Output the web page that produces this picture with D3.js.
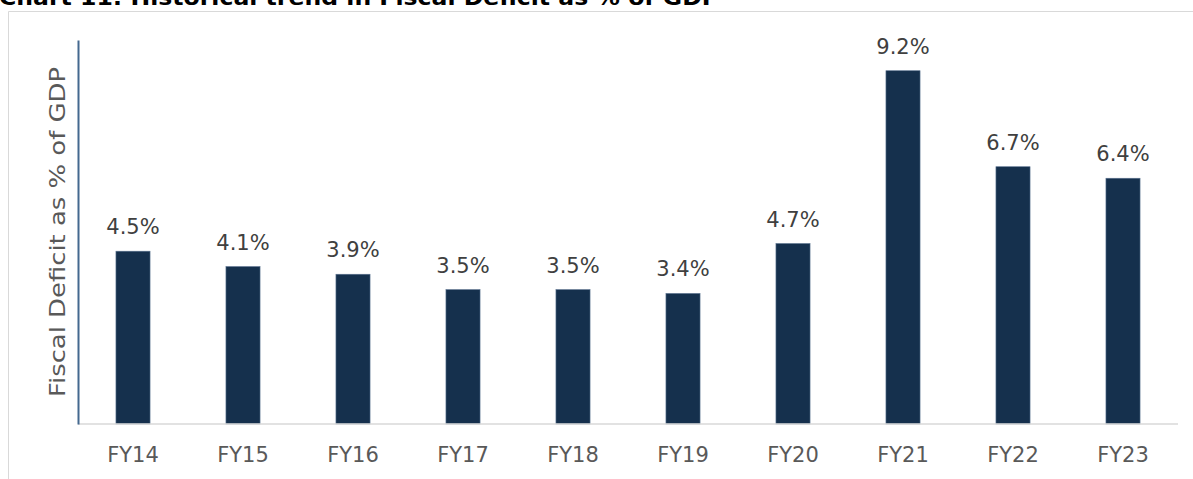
<!doctype html>
<html lang="en">
<head>
  <meta charset="utf-8">
  <title>Fiscal Deficit as % of GDP</title>
  <style>
    body { margin: 0; background: #fff; }
    #chart { width: 1193px; height: 479px; position: relative; overflow: hidden; }
    text { font-family: "DejaVu Sans", Verdana, sans-serif; }
  </style>
</head>
<body>
  <div id="chart"></div>

  <script src="https://d3js.org/d3.v7.min.js"></script>
  <script>
    const years = ['FY14', 'FY15', 'FY16', 'FY17', 'FY18', 'FY19', 'FY20', 'FY21', 'FY22', 'FY23'];
    const deficit = [4.5, 4.1, 3.9, 3.5, 3.5, 3.4, 4.7, 9.2, 6.7, 6.4];
    const yDomain = [0, 10];

    const width = 1193;
    const height = 479;
    const margin = { top: 40, right: 15, bottom: 55, left: 78 };

    const svg = d3.select('#chart')
      .append('svg')
      .attr('width', width)
      .attr('height', height);

    // title, clipped at top like the source
    svg.append('text')
      .attr('x', -1)
      .attr('y', 5)
      .attr('font-size', 22)
      .attr('font-weight', 'bold')
      .attr('fill', '#000')
      .attr('textLength', 720)
      .attr('lengthAdjust', 'spacingAndGlyphs')
      .text('Chart 11: Historical trend in Fiscal Deficit as % of GDP');

    // frame
    svg.append('path')
      .attr('d', `M8.5,${height} V11.5 H${width}`)
      .attr('fill', 'none')
      .attr('stroke', '#d9d9d9')
      .attr('stroke-width', 1);

    const x = d3.scaleBand()
      .domain(years)
      .range([margin.left, width - margin.right])
      .paddingInner(0.69)
      .paddingOuter(0.345);

    const y = d3.scaleLinear()
      .domain(yDomain)
      .range([height - margin.bottom, margin.top]);

    const data = years.map((d, i) => ({ year: d, value: deficit[i] }));

    // bars
    svg.append('g')
      .selectAll('rect')
      .data(data)
      .join('rect')
      .attr('x', d => x(d.year))
      .attr('y', d => y(d.value))
      .attr('width', x.bandwidth())
      .attr('height', d => y(0) - y(d.value))
      .attr('fill', '#15304d')
      .attr('stroke', '#5b7390')
      .attr('stroke-width', 0.6);

    // value labels
    svg.append('g')
      .selectAll('text')
      .data(data)
      .join('text')
      .attr('x', d => x(d.year) + x.bandwidth() / 2)
      .attr('y', d => y(d.value) - 17)
      .attr('text-anchor', 'middle')
      .attr('font-size', 21)
      .attr('fill', '#404040')
      .text(d => d.value.toFixed(1) + '%');

    // x axis
    const xAxis = svg.append('g')
      .attr('transform', `translate(0,${y(0)})`)
      .call(d3.axisBottom(x).tickSize(0).tickPadding(23));
    xAxis.select('.domain')
      .attr('stroke', '#d9d9d9')
      .attr('stroke-width', 1.5)
      .attr('d', `M${margin.left},0H${width - margin.right}`);
    xAxis.selectAll('text')
      .attr('font-family', '"DejaVu Sans", Verdana, sans-serif')
      .attr('font-size', 21)
      .attr('fill', '#595959');

    // y axis line only
    const yAxis = svg.append('g')
      .attr('transform', `translate(${margin.left},0)`)
      .call(d3.axisLeft(y).tickValues([]).tickSize(0));
    yAxis.select('.domain')
      .attr('stroke', '#44698f')
      .attr('stroke-width', 2);

    // y axis title
    svg.append('text')
      .attr('transform', `translate(65,${(y(0) + y(yDomain[1])) / 2}) rotate(-90)`)
      .attr('text-anchor', 'middle')
      .attr('font-size', 22)
      .attr('fill', '#595959')
      .attr('textLength', 330)
      .attr('lengthAdjust', 'spacingAndGlyphs')
      .text('Fiscal Deficit as % of GDP');
  </script>
</body>
</html>
